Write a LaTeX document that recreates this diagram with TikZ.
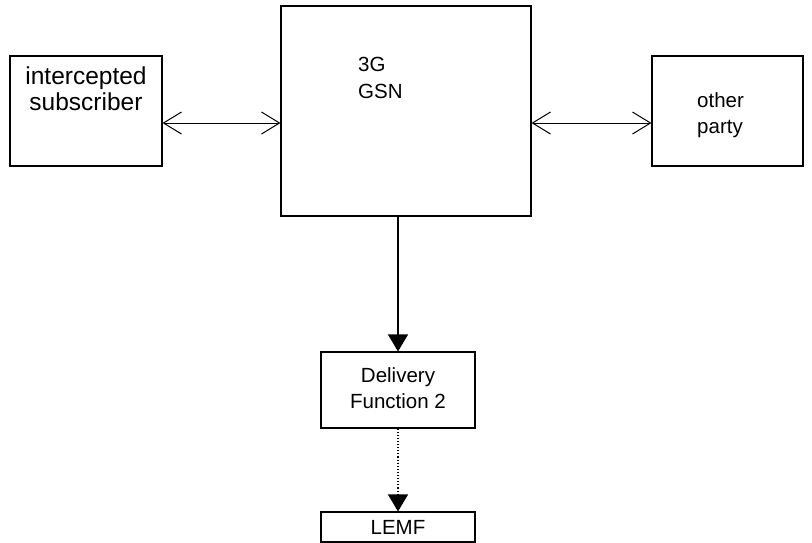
\documentclass[tikz,border=0pt]{standalone}
\usepackage{fontspec}
\setmainfont{Liberation Sans}
\usetikzlibrary{arrows.meta}
\tikzset{
  box/.style={draw, line width=1.1pt, inner sep=0pt},
  lbl/.style={font=\fontsize{20.5}{26.5}\selectfont, align=center, inner sep=0pt},
  twoway/.style={line width=1pt, {Straight Barb[length=18pt,width=22pt]}-{Straight Barb[length=18pt,width=22pt]}},
  down/.style={line width=1.1pt, -{Triangle[length=17pt,width=20pt]}},
}
\begin{document}
\begin{tikzpicture}[x=1pt,y=-1pt]
\useasboundingbox (0,0) rectangle (812,542);
% boxes
\node[box, minimum width=152pt, minimum height=110pt] (sub) at (86,111) {};
\node[box, minimum width=250pt, minimum height=210pt] (gsn) at (406,111) {};
\node[box, minimum width=151pt, minimum height=110pt] (oth) at (727.5,111) {};
\node[box, minimum width=154pt, minimum height=76pt] (df) at (398,390) {};
\node[box, minimum width=154pt, minimum height=30pt] (lemf) at (398,527) {};
% texts
\node[lbl, font=\fontsize{24.5}{26}\selectfont] (subtxt) at (86,89) {intercepted\\subscriber};
\node[lbl, align=left, anchor=north west] (gsntxt) at (358,57) {3G\\GSN};
\node[lbl, align=left, anchor=north west] (othtxt) at (697,92) {other\\party};
\node[lbl] (dftxt) at (398,388) {Delivery\\Function 2};
\node[lbl] (lemftxt) at (398,527) {LEMF};
% connectors
\coordinate (ya) at (0,123);
\draw[twoway] (sub.east |- ya) -- (gsn.west |- ya);
\draw[twoway] (gsn.east |- ya) -- (oth.west |- ya);
\draw[down] (gsn.south -| df.north) -- (df.north);
\draw[down, dotted] (df.south) -- (lemf.north);
\end{tikzpicture}
\end{document}
